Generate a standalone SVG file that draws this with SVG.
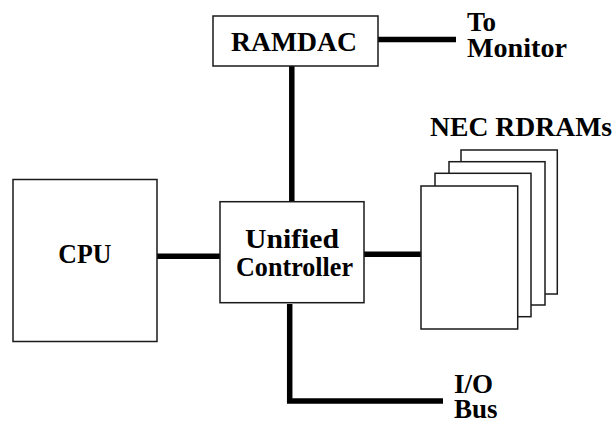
<svg xmlns="http://www.w3.org/2000/svg" width="615" height="421" viewBox="0 0 615 421">
<style>
.box{fill:#fff;stroke:#1a1a1a;stroke-width:1.5}
.lbl{font-family:"Liberation Serif","Times New Roman",serif;font-weight:bold;font-size:27px;fill:#000}
.wire{fill:none;stroke:#000;stroke-width:5.5}
</style>
<rect width="615" height="421" fill="#fff"/>
<g id="connectors">
<line class="wire" x1="378" y1="39.5" x2="456" y2="39.5"/>
<line class="wire" x1="291.8" y1="66" x2="291.8" y2="202"/>
<line class="wire" x1="157" y1="256.3" x2="220" y2="256.3"/>
<line class="wire" x1="364" y1="254.2" x2="421" y2="254.2"/>
<polyline class="wire" points="289.7,304 289.7,401 443,401"/>
</g>
<g id="ramdac">
<rect class="box" x="213" y="16" width="165" height="50"/>
<text class="lbl" x="231" y="51" textLength="126" lengthAdjust="spacingAndGlyphs">RAMDAC</text>
</g>
<g id="monitor">
<text class="lbl" x="467" y="30.7">To</text>
<text class="lbl" x="467" y="56.7" textLength="100" lengthAdjust="spacingAndGlyphs">Monitor</text>
</g>
<g id="cpu">
<rect class="box" x="13" y="179.5" width="144" height="162"/>
<text class="lbl" x="58.3" y="263.3" textLength="53" lengthAdjust="spacingAndGlyphs">CPU</text>
</g>
<g id="controller">
<rect class="box" x="220" y="201.7" width="144" height="101"/>
<text class="lbl" x="245" y="248" textLength="94" lengthAdjust="spacingAndGlyphs">Unified</text>
<text class="lbl" x="236" y="275.7" textLength="117" lengthAdjust="spacingAndGlyphs">Controller</text>
</g>
<g id="rdrams">
<text class="lbl" x="430" y="135.7" textLength="182" lengthAdjust="spacingAndGlyphs">NEC RDRAMs</text>
<rect class="box" x="461" y="150" width="96.3" height="144"/>
<rect class="box" x="449" y="161.7" width="96" height="143.3"/>
<rect class="box" x="435" y="173.3" width="96" height="143.4"/>
<rect class="box" x="421" y="186" width="96.7" height="143"/>
</g>
<g id="iobus">
<text class="lbl" x="454" y="393.3">I/O</text>
<text class="lbl" x="454" y="418.3">Bus</text>
</g>
</svg>
